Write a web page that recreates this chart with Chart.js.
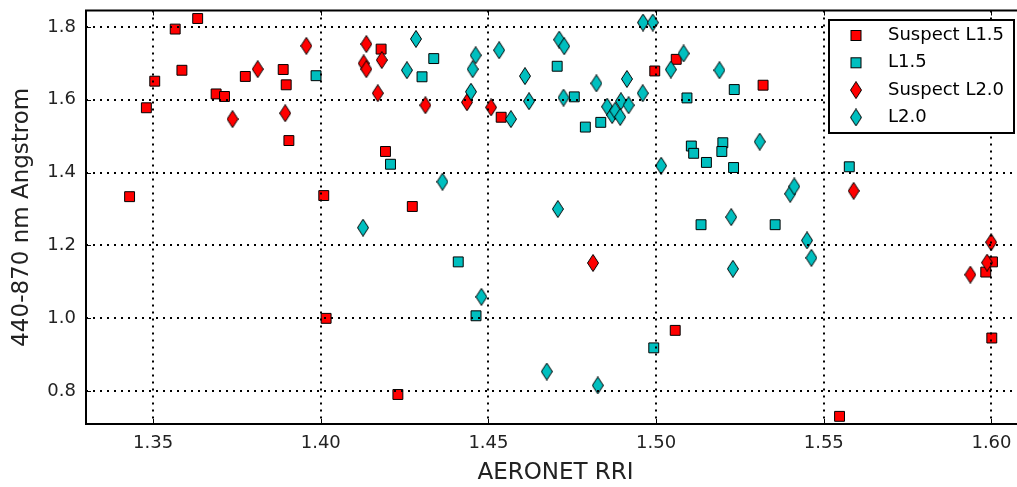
<!DOCTYPE html>
<html>
<head>
<meta charset="utf-8">
<script src="https://cdn.jsdelivr.net/npm/chart.js@4.4.1/dist/chart.umd.min.js"></script>
<style>
  html, body { margin: 0; padding: 0; background: #fff; overflow: hidden; }
  #wrap { width: 1033px; height: 487px; }
</style>
</head>
<body>
<div id="wrap"><canvas id="chart" width="1033" height="487"></canvas></div>
<script>
// tick values on both axes
const xTicks = [1.35, 1.40, 1.45, 1.50, 1.55, 1.60];
const yTicks = [0.8, 1.0, 1.2, 1.4, 1.6, 1.8];

const seriesLabels = ['Suspect L1.5', 'L1.5', 'Suspect L2.0', 'L2.0'];

// [AERONET RRI, 440-870 nm Angstrom]
const suspectL15 = [
    [1.343, 1.334], [1.348, 1.578], [1.3505, 1.651], [1.3566, 1.794], [1.3586, 1.681],
    [1.3633, 1.823], [1.3688, 1.616], [1.3713, 1.609], [1.3775, 1.664], [1.3888, 1.683],
    [1.3897, 1.641], [1.3905, 1.488], [1.4009, 1.337], [1.4016, 1.000], [1.4180, 1.739],
    [1.4193, 1.458], [1.4273, 1.307], [1.4230, 0.791], [1.4538, 1.552], [1.4996, 1.679],
    [1.5060, 1.711], [1.5057, 0.967], [1.5319, 1.640], [1.6003, 1.155], [1.5983, 1.127],
    [1.6001, 0.946], [1.5547, 0.731]
];

const l15 = [
    [1.3986, 1.666], [1.4208, 1.423], [1.4337, 1.713], [1.4302, 1.663], [1.4410, 1.155],
    [1.4463, 1.007], [1.4705, 1.692], [1.4756, 1.608], [1.4789, 1.525], [1.4835, 1.538],
    [1.4993, 0.919], [1.5092, 1.605], [1.5105, 1.473], [1.5112, 1.453], [1.5150, 1.428],
    [1.5199, 1.482], [1.5196, 1.458], [1.5231, 1.414], [1.5233, 1.628], [1.5576, 1.416],
    [1.5134, 1.257], [1.5355, 1.257]
];

const suspectL20 = [
    [1.3737, 1.547], [1.3812, 1.684], [1.3894, 1.563], [1.3957, 1.748], [1.4136, 1.753],
    [1.4128, 1.700], [1.4136, 1.684], [1.4182, 1.709], [1.4170, 1.618], [1.4312, 1.585],
    [1.4436, 1.593], [1.4508, 1.579], [1.4812, 1.152], [1.5589, 1.350], [1.5999, 1.209],
    [1.5937, 1.120], [1.5987, 1.153]
];

const l20 = [
    [1.4284, 1.767], [1.4257, 1.681], [1.4363, 1.375], [1.4126, 1.249], [1.4462, 1.722],
    [1.4453, 1.684], [1.4448, 1.622], [1.4567, 1.547], [1.4532, 1.736], [1.4609, 1.665],
    [1.4621, 1.596], [1.4711, 1.765], [1.4726, 1.747], [1.4724, 1.606], [1.4822, 1.645],
    [1.4913, 1.657], [1.4960, 1.618], [1.4854, 1.581], [1.4869, 1.558], [1.4878, 1.570],
    [1.4895, 1.596], [1.4893, 1.553], [1.4918, 1.585], [1.4961, 1.812], [1.4990, 1.812],
    [1.5044, 1.683], [1.5082, 1.727], [1.5015, 1.419], [1.4707, 1.300], [1.4479, 1.059],
    [1.4674, 0.854], [1.4826, 0.816], [1.5189, 1.681], [1.5309, 1.485], [1.5400, 1.342],
    [1.5412, 1.362], [1.5224, 1.278], [1.5450, 1.214], [1.5463, 1.166], [1.5229, 1.136]
];

const RED = '#ff0000';
const CYAN = '#00bfbf';
const FONT = '"DejaVu Sans", sans-serif';

// thin diamond marker (matplotlib 'd')
function makeDiamond(color) {
    const c = document.createElement('canvas');
    c.width = 12;
    c.height = 18;
    const g = c.getContext('2d');
    g.beginPath();
    g.moveTo(6, 0.5);
    g.lineTo(11.5, 9);
    g.lineTo(6, 17.5);
    g.lineTo(0.5, 9);
    g.closePath();
    g.fillStyle = color;
    g.fill();
    g.lineWidth = 1;
    g.strokeStyle = '#000';
    g.stroke();
    return c;
}

const toPoints = arr => arr.map(p => ({ x: p[0], y: p[1] }));

function series(label, data, color, diamond, order) {
    return {
        label: label,
        data: toPoints(data),
        pointStyle: diamond ? makeDiamond(color) : 'rect',
        pointRadius: 7,
        pointHoverRadius: 7,
        backgroundColor: color,
        borderColor: '#000',
        borderWidth: 1,
        order: order
    };
}

// frame + inward tick marks on all four sides
const frameTicks = {
    id: 'frameTicks',
    afterDraw(chart) {
        const { ctx, chartArea: a, scales } = chart;
        ctx.save();
        ctx.strokeStyle = '#000';
        ctx.lineWidth = 1;
        ctx.beginPath();
        xTicks.forEach(v => {
            const px = Math.round(scales.x.getPixelForValue(v)) + 0.5;
            ctx.moveTo(px, a.top); ctx.lineTo(px, a.top + 5);
            ctx.moveTo(px, a.bottom); ctx.lineTo(px, a.bottom - 5);
        });
        yTicks.forEach(v => {
            const py = Math.round(scales.y.getPixelForValue(v)) + 0.5;
            ctx.moveTo(a.left, py); ctx.lineTo(a.left + 5, py);
            ctx.moveTo(a.right, py); ctx.lineTo(a.right - 5, py);
        });
        ctx.stroke();
        ctx.lineWidth = 2;
        ctx.strokeRect(a.left, a.top, a.right - a.left, a.bottom - a.top);
        ctx.restore();
    }
};

// boxed legend in the upper right corner
const legendBox = {
    id: 'legendBox',
    afterDraw(chart) {
        const ctx = chart.ctx;
        ctx.save();
        ctx.fillStyle = '#fff';
        ctx.fillRect(829, 20, 185, 113);
        ctx.lineWidth = 2;
        ctx.strokeStyle = '#000';
        ctx.strokeRect(829, 20, 185, 113);
        ctx.font = '18px ' + FONT;
        ctx.textBaseline = 'middle';
        chart.data.datasets.forEach((ds, i) => {
            const y = 35.5 + i * 27.3;
            const x = 856;
            if (ds.pointStyle === 'rect') {
                ctx.fillStyle = ds.backgroundColor;
                ctx.fillRect(x - 5, y - 5, 10, 10);
                ctx.lineWidth = 1;
                ctx.strokeStyle = '#000';
                ctx.strokeRect(x - 5, y - 5, 10, 10);
            } else {
                const img = ds.pointStyle;
                ctx.drawImage(img, x - img.width / 2, y - img.height / 2);
            }
            ctx.fillStyle = '#000';
            ctx.fillText(ds.label, 888, y);
        });
        ctx.restore();
    }
};

const ctx = document.getElementById('chart').getContext('2d');
new Chart(ctx, {
    type: 'scatter',
    data: {
        datasets: [
            series(seriesLabels[0], suspectL15, RED, false, 4),
            series(seriesLabels[1], l15, CYAN, false, 3),
            series(seriesLabels[2], suspectL20, RED, true, 2),
            series(seriesLabels[3], l20, CYAN, true, 1)
        ]
    },
    options: {
        responsive: false,
        animation: false,
        layout: { padding: { top: 10.5, right: 1, left: 0, bottom: 0 } },
        plugins: {
            legend: { display: false },
            tooltip: { enabled: false }
        },
        scales: {
            x: {
                type: 'linear',
                min: 1.33,
                max: 1.61,
                afterFit: s => { s.height = 63; s.paddingLeft = 0; s.paddingRight = 0; },
                afterBuildTicks: s => { s.ticks = xTicks.map(v => ({ value: v })); },
                ticks: {
                    padding: 9,
                    color: '#222',
                    font: { family: FONT, size: 18 },
                    callback: v => v.toFixed(2)
                },
                grid: { color: '#000', lineWidth: 2, drawTicks: false, z: 1 },
                border: { display: false, dash: [2, 5] },
                title: {
                    display: true,
                    text: 'AERONET RRI',
                    color: '#222',
                    font: { family: FONT, size: 23 },
                    padding: { top: 0, bottom: 0 }
                }
            },
            y: {
                type: 'linear',
                min: 0.71,
                max: 1.845,
                afterFit: s => { s.width = 86; s.paddingTop = 0; s.paddingBottom = 0; },
                afterBuildTicks: s => { s.ticks = yTicks.map(v => ({ value: v })); },
                ticks: {
                    padding: 10,
                    color: '#222',
                    font: { family: FONT, size: 18 },
                    callback: v => v.toFixed(1)
                },
                grid: { color: '#000', lineWidth: 2, drawTicks: false, z: 1 },
                border: { display: false, dash: [2, 5] },
                title: {
                    display: true,
                    text: '440-870 nm Angstrom',
                    color: '#222',
                    font: { family: FONT, size: 23 },
                    padding: { top: 8, bottom: 0 }
                }
            }
        }
    },
    plugins: [frameTicks, legendBox]
});
</script>
</body>
</html>
